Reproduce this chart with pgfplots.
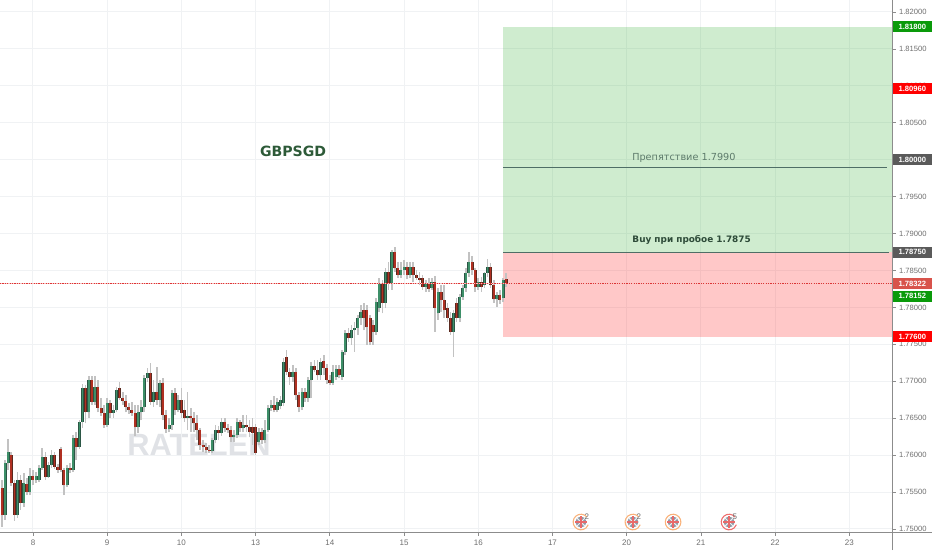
\documentclass[border=0pt]{standalone}
\usepackage{fontspec}
\setmainfont{Liberation Sans}
\newfontfamily\dv{DejaVu Sans}
\usepackage{pgfplots}
\usepackage{pgfplotstable}
\pgfplotsset{compat=1.18}
\definecolor{gridc}{HTML}{F0F2F4}
\definecolor{axc}{HTML}{8C8C8C}
\definecolor{tickc}{HTML}{6E6E6E}
\definecolor{wickc}{HTML}{C2C2C2}
\definecolor{upc}{HTML}{3D8F68}
\definecolor{dnc}{HTML}{B03022}
\definecolor{upo}{HTML}{2B5645}
\definecolor{dno}{HTML}{5A2A20}
\definecolor{zoneg}{HTML}{4CB94C}
\definecolor{zoner}{HTML}{FF3232}
\definecolor{lineg}{HTML}{4F6E66}
\definecolor{dotc}{RGB}{222,52,52}
\definecolor{dotl}{RGB}{246,196,196}
\definecolor{boxg}{HTML}{0A9A0A}
\definecolor{boxr}{HTML}{FF0000}
\definecolor{boxd}{HTML}{5A5A5A}
\definecolor{boxp}{HTML}{D8534B}
\definecolor{titlec}{HTML}{2D5A38}
\definecolor{notec}{HTML}{5D7A6B}
\definecolor{buyc}{HTML}{2D4A38}
\definecolor{wmc}{HTML}{E0E2E6}
\definecolor{ringo}{HTML}{F9B27A}
\definecolor{ringr}{HTML}{EE6F6F}
\definecolor{flagg}{HTML}{8E99A6}
\definecolor{flagr}{HTML}{E86A6A}
\pgfplotstableread{
t o h l c
-10 1.7555 1.7566 1.7503 1.7519
-9 1.7519 1.7593 1.7512 1.7589
-8 1.7589 1.7622 1.7580 1.7604
-7 1.7600 1.7604 1.7558 1.7562
-6 1.7562 1.7566 1.7511 1.7519
-5 1.7519 1.7577 1.7515 1.7566
-4 1.7566 1.7573 1.7526 1.7535
-3 1.7535 1.7576 1.7530 1.7562
-2 1.7561 1.7569 1.7546 1.7550
-1 1.7550 1.7583 1.7546 1.7572
0 1.7572 1.7580 1.7559 1.7566
1 1.7566 1.7577 1.7562 1.7572
2 1.7566 1.7587 1.7564 1.7583
3 1.7583 1.7610 1.7580 1.7597
4 1.7597 1.7604 1.7566 1.7570
5 1.7570 1.7591 1.7569 1.7587
6 1.7587 1.7607 1.7583 1.7600
7 1.7600 1.7604 1.7581 1.7584
8 1.7584 1.7588 1.7576 1.7580
9 1.7608 1.7611 1.7577 1.7580
10 1.7580 1.7583 1.7546 1.7559
11 1.7559 1.7587 1.7557 1.7583
12 1.7583 1.7589 1.7576 1.7580
13 1.7580 1.7627 1.7577 1.7623
14 1.7623 1.7631 1.7593 1.7611
15 1.7611 1.7647 1.7608 1.7645
16 1.7645 1.7696 1.7637 1.7691
17 1.7691 1.7695 1.7643 1.7658
18 1.7658 1.7707 1.7650 1.7702
19 1.7702 1.7707 1.7668 1.7672
20 1.7672 1.7707 1.7668 1.7692
21 1.7692 1.7702 1.7658 1.7664
22 1.7664 1.7677 1.7653 1.7657
23 1.7657 1.7668 1.7637 1.7641
24 1.7641 1.7677 1.7638 1.7671
25 1.7671 1.7675 1.7650 1.7657
26 1.7657 1.7668 1.7650 1.7661
27 1.7661 1.7692 1.7658 1.7688
28 1.7691 1.7699 1.7675 1.7677
29 1.7677 1.7685 1.7668 1.7673
30 1.7673 1.7681 1.7658 1.7665
31 1.7665 1.7671 1.7656 1.7661
32 1.7661 1.7672 1.7653 1.7657
33 1.7657 1.7668 1.7626 1.7638
34 1.7638 1.7668 1.7630 1.7658
35 1.7658 1.7675 1.7647 1.7665
36 1.7665 1.7708 1.7658 1.7704
37 1.7704 1.7718 1.7699 1.7711
38 1.7711 1.7725 1.7668 1.7672
39 1.7672 1.7702 1.7665 1.7685
40 1.7685 1.7719 1.7668 1.7675
41 1.7675 1.7702 1.7665 1.7698
42 1.7698 1.7704 1.7647 1.7654
43 1.7654 1.7661 1.7630 1.7635
44 1.7635 1.7650 1.7631 1.7641
45 1.7641 1.7688 1.7634 1.7684
46 1.7684 1.7691 1.7654 1.7661
47 1.7661 1.7681 1.7658 1.7675
48 1.7675 1.7691 1.7650 1.7657
49 1.7661 1.7675 1.7645 1.7650
50 1.7650 1.7685 1.7634 1.7653
51 1.7653 1.7664 1.7631 1.7650
52 1.7650 1.7658 1.7631 1.7643
53 1.7643 1.7654 1.7620 1.7634
54 1.7634 1.7637 1.7607 1.7614
55 1.7614 1.7620 1.7604 1.7611
56 1.7611 1.7616 1.7603 1.7607
57 1.7607 1.7614 1.7603 1.7605
58 1.7605 1.7623 1.7603 1.7620
59 1.7620 1.7641 1.7616 1.7634
60 1.7634 1.7640 1.7620 1.7630
61 1.7630 1.7650 1.7626 1.7645
62 1.7645 1.7650 1.7631 1.7637
63 1.7637 1.7642 1.7630 1.7634
64 1.7634 1.7640 1.7618 1.7624
65 1.7624 1.7634 1.7618 1.7627
66 1.7627 1.7650 1.7623 1.7645
67 1.7645 1.7647 1.7631 1.7637
68 1.7637 1.7654 1.7631 1.7641
69 1.7641 1.7654 1.7631 1.7638
70 1.7638 1.7647 1.7624 1.7631
71 1.7638 1.7650 1.7614 1.7630
72 1.7638 1.7642 1.7600 1.7603
73 1.7618 1.7637 1.7614 1.7631
74 1.7631 1.7637 1.7615 1.7620
75 1.7620 1.7647 1.7616 1.7634
76 1.7634 1.7668 1.7631 1.7664
77 1.7664 1.7675 1.7660 1.7668
78 1.7668 1.7680 1.7658 1.7661
79 1.7661 1.7677 1.7658 1.7672
80 1.7666 1.7680 1.7662 1.7675
81 1.7671 1.7731 1.7666 1.7726
82 1.7733 1.7742 1.7708 1.7712
83 1.7712 1.7718 1.7695 1.7706
84 1.7706 1.7722 1.7699 1.7712
85 1.7712 1.7718 1.7675 1.7681
86 1.7681 1.7685 1.7658 1.7665
87 1.7665 1.7691 1.7661 1.7685
88 1.7685 1.7691 1.7672 1.7677
89 1.7677 1.7706 1.7672 1.7702
90 1.7702 1.7726 1.7677 1.7721
91 1.7721 1.7729 1.7712 1.7715
92 1.7715 1.7729 1.7702 1.7708
93 1.7708 1.7731 1.7702 1.7726
94 1.7727 1.7735 1.7708 1.7718
95 1.7718 1.7723 1.7696 1.7702
96 1.7702 1.7708 1.7695 1.7698
97 1.7698 1.7722 1.7695 1.7712
98 1.7706 1.7722 1.7702 1.7717
99 1.7717 1.7722 1.7704 1.7708
100 1.7706 1.7742 1.7702 1.7740
101 1.7740 1.7769 1.7735 1.7765
102 1.7765 1.7772 1.7753 1.7758
103 1.7758 1.7776 1.7749 1.7769
104 1.7769 1.7780 1.7740 1.7772
105 1.7772 1.7790 1.7763 1.7786
106 1.7786 1.7803 1.7776 1.7794
107 1.7796 1.7806 1.7769 1.7786
108 1.7796 1.7803 1.7749 1.7773
109 1.7786 1.7790 1.7749 1.7753
110 1.7776 1.7783 1.7749 1.7767
111 1.7767 1.7813 1.7763 1.7807
112 1.7799 1.7840 1.7794 1.7833
113 1.7833 1.7837 1.7792 1.7806
114 1.7806 1.7853 1.7799 1.7848
115 1.7848 1.7861 1.7824 1.7833
116 1.7833 1.7878 1.7824 1.7875
117 1.7875 1.7882 1.7848 1.7853
118 1.7853 1.7861 1.7840 1.7844
119 1.7844 1.7861 1.7840 1.7851
120 1.7851 1.7864 1.7844 1.7855
121 1.7855 1.7861 1.7839 1.7844
122 1.7844 1.7861 1.7840 1.7855
123 1.7855 1.7861 1.7834 1.7844
124 1.7844 1.7851 1.7837 1.7840
125 1.7840 1.7848 1.7830 1.7837
126 1.7840 1.7844 1.7824 1.7828
127 1.7828 1.7837 1.7821 1.7833
128 1.7833 1.7840 1.7821 1.7825
129 1.7826 1.7840 1.7824 1.7834
130 1.7834 1.7843 1.7767 1.7799
131 1.7792 1.7826 1.7783 1.7821
132 1.7821 1.7830 1.7794 1.7810
133 1.7810 1.7830 1.7786 1.7796
134 1.7799 1.7806 1.7780 1.7786
135 1.7786 1.7794 1.7763 1.7767
136 1.7767 1.7796 1.7733 1.7792
137 1.7806 1.7813 1.7780 1.7786
138 1.7786 1.7818 1.7780 1.7814
139 1.7814 1.7830 1.7810 1.7826
140 1.7826 1.7853 1.7821 1.7847
141 1.7847 1.7875 1.7841 1.7861
142 1.7861 1.7870 1.7844 1.7851
143 1.7851 1.7853 1.7821 1.7828
144 1.7828 1.7840 1.7824 1.7834
145 1.7834 1.7841 1.7821 1.7828
146 1.7830 1.7848 1.7826 1.7847
147 1.7847 1.7865 1.7841 1.7855
148 1.7855 1.7860 1.7826 1.7830
149 1.7830 1.7837 1.7806 1.7811
150 1.7811 1.7821 1.7801 1.7817
151 1.7817 1.7824 1.7805 1.7810
152 1.7813 1.7840 1.7807 1.7837
153 1.7839 1.7847 1.7828 1.7832
}\candles
\newcommand{\lab}[3]{\node[fill=#2,text=white,minimum width=39.5pt,minimum height=11pt,inner sep=0pt,anchor=west,font=\fontsize{7.6}{9}\selectfont\bfseries] at (axis cs:277.9,#1) {#3};}
\newcommand{\evt}[4]{%
  \node[inner sep=0pt] at (axis cs:#1,1.75094) {\tikz{%
    \path[use as bounding box] (-10pt,-10pt) rectangle (10pt,10pt);
    \fill[flagg] (0pt,0pt) circle[radius=5.6pt];
    \draw[white!85!flagg,line width=1pt] (-4pt,-4pt)--(4pt,4pt) (-4pt,4pt)--(4pt,-4pt);
    \draw[flagr,line width=1.7pt] (-5.6pt,0pt)--(5.6pt,0pt) (0pt,-5.6pt)--(0pt,5.6pt);
    \draw[#2,line width=1.1pt] (#3:7.8pt) arc (#3:340:7.8pt);
  }};
  \node[text=tickc,font=\fontsize{8}{9}\selectfont,inner sep=0pt] at (axis cs:#1+1.9,1.75164) {#4};
}
\begin{document}
\begin{tikzpicture}
\path[use as bounding box] (0,0) rectangle (932pt,550pt);
\node[text=wmc,font=\fontsize{30.8}{32}\selectfont\bfseries,inner sep=0pt] at (199pt,105pt) {RATELEN};
\begin{axis}[
  at={(0pt,18pt)},anchor=south west,
  width=892pt,height=532pt,scale only axis,
  xmin=-10.67,xmax=277.8,ymin=1.74959,ymax=1.821625,
  axis x line*=bottom,axis y line*=right,
  axis line style={axc,line width=1pt,-},
  xtick={0,24,48,72,96,120,144,168,192,216,240,264},
  xticklabels={8,9,10,13,14,15,16,17,20,21,22,23},
  ytick={1.75,1.755,1.76,1.765,1.77,1.775,1.78,1.785,1.79,1.795,1.80,1.805,1.81,1.815,1.82},
  scaled y ticks=false,
  yticklabel style={/pgf/number format/fixed,/pgf/number format/fixed zerofill,/pgf/number format/precision=5,/pgf/number format/assume math mode=true,font=\fontsize{7.6}{9}\selectfont,text=tickc},
  xticklabel style={/pgf/number format/assume math mode=true,font=\fontsize{8}{9}\selectfont,text=tickc,yshift=-1pt},
  tick style={axc,line width=0.8pt},
  tick align=outside,
  major tick length=3.5pt,
  grid=major,
  major grid style={gridc,line width=1pt},
  clip mode=individual,
]
\addplot[fill=zoneg,fill opacity=.27,draw=none,forget plot] coordinates {(152,1.818)(277.8,1.818)(277.8,1.7875)(152,1.7875)} -- cycle;
\addplot[fill=zoner,fill opacity=.27,draw=none,forget plot] coordinates {(152,1.7875)(277.8,1.7875)(277.8,1.776)(152,1.776)} -- cycle;
\addplot[draw=none,no markers,forget plot,error bars/.cd,y dir=plus,y explicit,error mark=none,error bar style={draw=wickc,line width=1.7pt}] table[x=t,y=l,y error plus expr=\thisrow{h}-\thisrow{l}] \candles;
\addplot[draw=none,no markers,forget plot,x filter/.expression={\thisrow{c}>\thisrow{o} ? x : nan},error bars/.cd,y dir=plus,y explicit,error mark=none,error bar style={draw=upo,line width=3pt}] table[x=t,y=o,y error plus expr=\thisrow{c}-\thisrow{o}] \candles;
\addplot[draw=none,no markers,forget plot,x filter/.expression={\thisrow{c}<\thisrow{o} ? x : nan},error bars/.cd,y dir=plus,y explicit,error mark=none,error bar style={draw=dno,line width=3pt}] table[x=t,y=c,y error plus expr=\thisrow{o}-\thisrow{c}] \candles;
\addplot[draw=none,no markers,forget plot,x filter/.expression={\thisrow{c}>\thisrow{o} ? x : nan},error bars/.cd,y dir=plus,y explicit,error mark=none,error bar style={draw=upc,line width=1.7pt}] table[x=t,y=o,y error plus expr=\thisrow{c}-\thisrow{o}] \candles;
\addplot[draw=none,no markers,forget plot,x filter/.expression={\thisrow{c}<\thisrow{o} ? x : nan},error bars/.cd,y dir=plus,y explicit,error mark=none,error bar style={draw=dnc,line width=1.7pt}] table[x=t,y=c,y error plus expr=\thisrow{o}-\thisrow{c}] \candles;
\addplot[draw=none,no markers,forget plot,error bars/.cd,x dir=plus,x explicit,error mark=none,error bar style={draw=lineg,line width=0.9pt}] coordinates {(152,1.799) +- (124.2,0)};
\addplot[draw=none,no markers,forget plot,error bars/.cd,x dir=plus,x explicit,error mark=none,error bar style={draw=lineg,line width=1pt}] coordinates {(152,1.7875) +- (124.8,0)};
\addplot[draw=none,no markers,forget plot,error bars/.cd,x dir=plus,x explicit,error mark=none,error bar style={draw=dotl,line width=1pt}] coordinates {(-10.67,1.78322) +- (288.47,0)};
\addplot[draw=none,no markers,forget plot,error bars/.cd,x dir=plus,x explicit,error mark=none,error bar style={draw=dotc,line width=1pt,dash pattern=on 1.2pt off 1.2pt}] coordinates {(-10.67,1.78322) +- (288.47,0)};
\node[text=titlec,font=\dv\bfseries\fontsize{14.1}{16}\selectfont] at (axis cs:84.1,1.80118) {GBPSGD};
\node[text=notec,font=\dv\fontsize{9.7}{11}\selectfont] at (axis cs:210.5,1.80023) {Препятствие 1.7990};
\node[text=buyc,font=\dv\bfseries\fontsize{8.9}{10}\selectfont] at (axis cs:213,1.78912) {Buy при пробое 1.7875};
\lab{1.818}{boxg}{1.81800}
\lab{1.8096}{boxr}{1.80960}
\lab{1.80}{boxd}{1.80000}
\lab{1.7875}{boxd}{1.78750}
\lab{1.78322}{boxp}{1.78322}
\lab{1.78152}{boxg}{1.78152}
\lab{1.776}{boxr}{1.77600}
\evt{177.2}{ringo}{40}{2}
\evt{194.0}{ringo}{40}{2}
\evt{207.0}{ringo}{-340}{}
\evt{225.1}{ringr}{40}{5}
\end{axis}
\draw[axc,line width=1pt] (892pt,0pt)--(892pt,18pt);
\draw[axc,line width=1pt] (892pt,18pt)--(932pt,18pt);
\end{tikzpicture}
\end{document}
